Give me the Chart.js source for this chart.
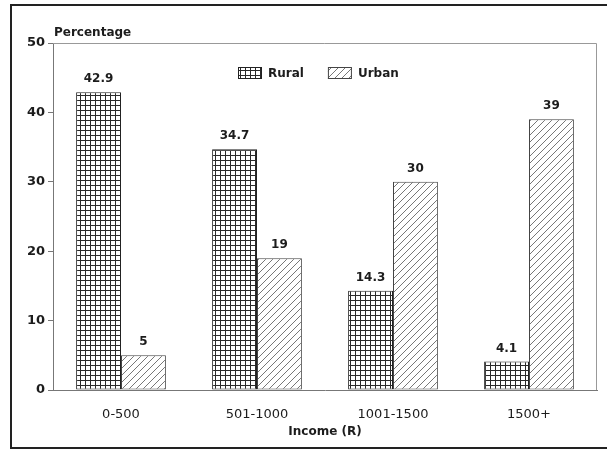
<!DOCTYPE html>
<html>
<head>
<meta charset="utf-8">
<script src="https://cdn.jsdelivr.net/npm/chart.js@4"></script>
<style>
  body { margin: 0; background: #fff; }
  #wrap { position: relative; width: 607px; height: 450px; overflow: hidden; }
  #frame { position: absolute; left: 10px; top: 4px; width: 620px; height: 441px; border: 2px solid #222; }
  #chart { position: absolute; left: 0; top: 0; }
</style>
</head>
<body>
<div id="wrap">
  <div id="frame"></div>
  <canvas id="chart" width="607" height="450"></canvas>
</div>
<script>
// Income distribution, rural vs urban households

const categories = ["0-500", "501-1000", "1001-1500", "1500+"];
const ruralValues = [42.9, 34.7, 14.3, 4.1];
const urbanValues = [5, 19, 30, 39];
const yTicks = [0, 10, 20, 30, 40, 50];

const INK = "#1c1c1c";
const FONT = "'DejaVu Sans', sans-serif";

// small square grid used for the rural bars
function gridPattern() {
  const c = document.createElement("canvas");
  c.width = 5; c.height = 5;
  const g = c.getContext("2d");
  g.fillStyle = "#fff";
  g.fillRect(0, 0, 5, 5);
  g.fillStyle = "#2a2a2a";
  g.fillRect(0, 0, 5, 1);
  g.fillRect(0, 0, 1, 5);
  return g.createPattern(c, "repeat");
}

// thin forward-slash hatching for the urban bars
function hatchPattern() {
  const s = 7;
  const c = document.createElement("canvas");
  c.width = s; c.height = s;
  const g = c.getContext("2d");
  g.fillStyle = "#fff";
  g.fillRect(0, 0, s, s);
  g.strokeStyle = "#777";
  g.lineWidth = 1;
  g.beginPath();
  g.moveTo(-1, s + 1); g.lineTo(s + 1, -1);
  g.moveTo(-1, 1); g.lineTo(1, -1);
  g.moveTo(s - 1, s + 1); g.lineTo(s + 1, s - 1);
  g.stroke();
  return g.createPattern(c, "repeat");
}

// light box round the plot area plus the "Percentage" heading
const framePlugin = {
  id: "plotFrame",
  beforeDatasetsDraw(chart) {
    const a = chart.chartArea;
    const ctx = chart.ctx;
    ctx.save();
    ctx.strokeStyle = "#999";
    ctx.lineWidth = 1;
    ctx.beginPath();
    ctx.moveTo(a.left, a.top + 0.5);
    ctx.lineTo(a.right - 0.5, a.top + 0.5);
    ctx.lineTo(a.right - 0.5, a.bottom);
    ctx.stroke();
    ctx.fillStyle = INK;
    ctx.font = "bold 12px " + FONT;
    ctx.textBaseline = "alphabetic";
    ctx.textAlign = "left";
    ctx.fillText("Percentage", a.left + 1, a.top - 7);
    ctx.restore();
  }
};

// legend drawn inside the plot, near the top
const insideLegend = {
  id: "insideLegend",
  afterDatasetsDraw(chart) {
    const a = chart.chartArea;
    const ctx = chart.ctx;
    const boxW = 24, boxH = 12, gapText = 6, gapItem = 24;
    ctx.save();
    ctx.font = "bold 12px " + FONT;
    const items = chart.data.datasets.map((ds) => ({
      ds,
      w: boxW + gapText + ctx.measureText(ds.label).width
    }));
    const total = items.reduce((s, it) => s + it.w, 0) + gapItem * (items.length - 1);
    let x = Math.round((a.left + a.right) / 2 - total / 2) - 7;
    const cy = a.top + 30;
    items.forEach((it) => {
      ctx.fillStyle = it.ds.backgroundColor;
      ctx.fillRect(x, cy - boxH / 2, boxW, boxH);
      ctx.strokeStyle = it.ds.borderColor;
      ctx.lineWidth = 1;
      ctx.strokeRect(x + 0.5, cy - boxH / 2 + 0.5, boxW - 1, boxH - 1);
      ctx.fillStyle = INK;
      ctx.textAlign = "left";
      ctx.textBaseline = "middle";
      ctx.fillText(it.ds.label, x + boxW + gapText, cy + 1);
      x += it.w + gapItem;
    });
    ctx.restore();
  }
};

// value printed above each bar
const valueLabels = {
  id: "valueLabels",
  afterDatasetsDraw(chart) {
    const ctx = chart.ctx;
    ctx.save();
    ctx.fillStyle = INK;
    ctx.font = "bold 12px " + FONT;
    ctx.textAlign = "center";
    ctx.textBaseline = "bottom";
    chart.data.datasets.forEach((ds, i) => {
      chart.getDatasetMeta(i).data.forEach((bar, j) => {
        ctx.fillText(String(ds.data[j]), bar.x, bar.y - 7);
      });
    });
    ctx.restore();
  }
};

const ctx = document.getElementById("chart").getContext("2d");
new Chart(ctx, {
  type: "bar",
  data: {
    labels: categories,
    datasets: [
      {
        label: "Rural",
        data: ruralValues,
        backgroundColor: gridPattern(),
        borderColor: "#222",
        borderWidth: 1,
        borderSkipped: false
      },
      {
        label: "Urban",
        data: urbanValues,
        backgroundColor: hatchPattern(),
        borderColor: "#444",
        borderWidth: 1,
        borderSkipped: false
      }
    ]
  },
  options: {
    responsive: false,
    animation: false,
    layout: { padding: { left: 0, top: 43, right: 10, bottom: 7 } },
    datasets: {
      bar: { categoryPercentage: 0.66, barPercentage: 1.0 }
    },
    scales: {
      x: {
        grid: { display: false },
        border: { display: true, color: "#777", width: 1 },
        ticks: {
          color: INK,
          padding: 9,
          font: { family: FONT, size: 13 }
        },
        title: {
          display: true,
          text: "Income (R)",
          color: INK,
          padding: { top: 0 },
          font: { family: FONT, size: 12, weight: "bold" }
        },
        afterFit(scale) { scale.height = 53; }
      },
      y: {
        min: 0,
        max: 50,
        afterBuildTicks(scale) {
          scale.ticks = yTicks.map((v) => ({ value: v }));
        },
        grid: {
          drawOnChartArea: false,
          drawTicks: true,
          tickLength: 5,
          color: "#777"
        },
        border: { display: true, color: "#777", width: 1 },
        ticks: {
          color: INK,
          padding: 3,
          font: { family: FONT, size: 13, weight: "bold" }
        },
        afterFit(scale) { scale.width = 53; }
      }
    },
    plugins: {
      legend: { display: false },
      tooltip: { enabled: false }
    }
  },
  plugins: [framePlugin, valueLabels, insideLegend]
});
</script>
</body>
</html>
